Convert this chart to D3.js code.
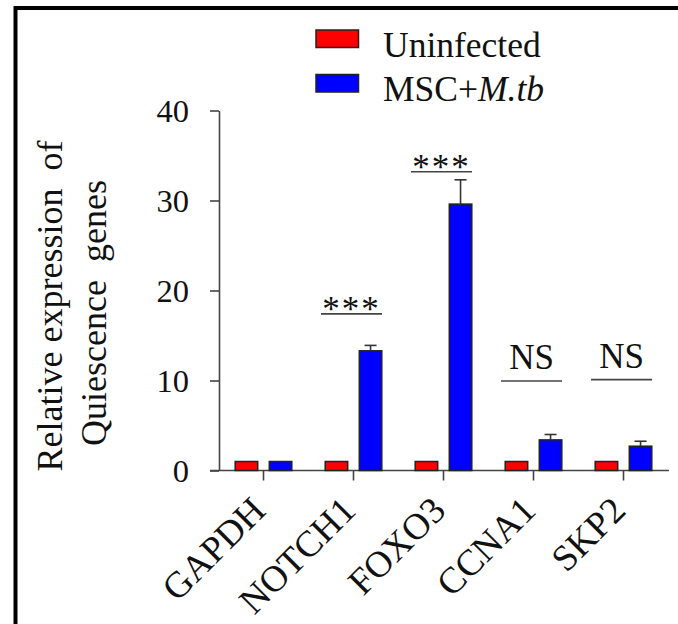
<!DOCTYPE html>
<html>
<head>
<meta charset="utf-8">
<script src="https://cdn.jsdelivr.net/npm/d3@7"></script>
<style>
  body { margin: 0; background: #fff; }
  svg { display: block; font-family: 'Liberation Serif', 'Times New Roman', serif; }
</style>
</head>
<body>
<div id="chart"></div>
<script>
// genes and series
const genes = ['GAPDH', 'NOTCH1', 'FOXO3', 'CCNA1', 'SKP2'];
const seriesNames = ['Uninfected', 'MSC+M.tb'];
const seriesColors = ['#ff0000', '#0000ff'];

// values
const uninfected = [1, 1, 1, 1, 1];
const mscMtb = [1, 13.3, 29.6, 3.4, 2.7];
const mscMtbErr = [0, 0.6, 2.7, 0.6, 0.55];

// significance marks: label and height of the bracket line (in y units)
const sigLabels = ['', '***', '***', 'NS', 'NS'];
const sigLevels = [null, 17.4, 33.2, 9.95, 10.1];

const yTicks = [0, 10, 20, 30, 40];

const width = 678, height = 624;

const svg = d3.select('#chart')
    .append('svg')
        .attr('width', width)
        .attr('height', height);

// frame (only left and top edges visible)
svg.append('path')
    .attr('d', `M15.5,${height} V8 H${width}`)
    .attr('fill', 'none')
    .attr('stroke', '#000')
    .attr('stroke-width', 4);

//scales
let x = d3.scaleBand()
    .domain(genes)
    .range([218.5, 668.5]);

let x1 = d3.scaleBand()
    .domain(seriesNames)
    .range([0, x.bandwidth()])
    .paddingInner(0.34)
    .paddingOuter(0.49);

let y = d3.scaleLinear()
    .domain([0, 40])
    .range([470.5, 110.5]);

const axisColor = '#444';

//y-Axis
let yAxis = svg.append('g')
    .attr('transform', 'translate(219,0)')
    .call(d3.axisLeft(y).tickValues(yTicks).tickSize(9).tickSizeOuter(0).tickPadding(21))
    .attr('font-family', null)
    .attr('font-size', null);

yAxis.select('.domain').attr('stroke', axisColor).attr('stroke-width', 1.6);
yAxis.selectAll('.tick line').attr('stroke', axisColor).attr('stroke-width', 1.6);
yAxis.selectAll('.tick text')
    .attr('fill', '#111')
    .style('font-size', '32.5px')
    .attr('dy', '0.34em');

//x-Axis line from 210 (under the 0 tick) to the right end
svg.append('line')
    .attr('x1', 210).attr('x2', 669)
    .attr('y1', y(0)).attr('y2', y(0))
    .attr('stroke', axisColor)
    .attr('stroke-width', 1.6);

let xAxis = svg.append('g')
    .attr('transform', `translate(0,${y(0)})`)
    .call(d3.axisBottom(x).tickSize(10).tickSizeOuter(0))
    .attr('font-family', null)
    .attr('font-size', null);

xAxis.select('.domain').remove();
xAxis.selectAll('.tick line').attr('stroke', axisColor).attr('stroke-width', 1.6);
xAxis.selectAll('.tick text')
    .attr('fill', '#111')
    .style('font-size', '37px')
    .attr('text-anchor', 'end')
    .attr('dy', null)
    .attr('y', 0)
    .attr('transform', 'translate(4,42) rotate(-45)');

//bars
const barData = genes.map((g, i) => ({gene: g, values: [uninfected[i], mscMtb[i]], err: [0, mscMtbErr[i]]}));

let groups = svg.append('g')
    .selectAll('g')
    .data(barData)
    .join('g')
        .attr('transform', d => `translate(${x(d.gene)},0)`);

groups.selectAll('rect')
    .data(d => d.values.map((v, j) => ({s: seriesNames[j], v: v, e: d.err[j], c: seriesColors[j]})))
    .join('rect')
        .attr('x', d => x1(d.s))
        .attr('y', d => y(d.v))
        .attr('width', x1.bandwidth())
        .attr('height', d => y(0) - y(d.v))
        .attr('fill', d => d.c)
        .attr('stroke', '#222')
        .attr('stroke-width', 1.5);

//error bars (upper half only)
let errs = groups.selectAll('g.err')
    .data(d => d.values.map((v, j) => ({s: seriesNames[j], v: v, e: d.err[j]})).filter(d => d.e > 0))
    .join('g')
        .classed('err', true)
        .attr('stroke', '#333')
        .attr('stroke-width', 1.6);

errs.append('line')
    .attr('x1', d => x1(d.s) + x1.bandwidth() / 2)
    .attr('x2', d => x1(d.s) + x1.bandwidth() / 2)
    .attr('y1', d => y(d.v))
    .attr('y2', d => y(d.v + d.e));

errs.append('line')
    .attr('x1', d => x1(d.s) + x1.bandwidth() / 2 - 6)
    .attr('x2', d => x1(d.s) + x1.bandwidth() / 2 + 6)
    .attr('y1', d => y(d.v + d.e))
    .attr('y2', d => y(d.v + d.e));

//significance brackets
const sigData = genes.map((g, i) => ({gene: g, label: sigLabels[i], level: sigLevels[i]})).filter(d => d.level !== null);

let sig = svg.append('g')
    .selectAll('g')
    .data(sigData)
    .join('g')
        .attr('transform', d => `translate(${x(d.gene) + x.bandwidth() / 2 - 2},${y(d.level)})`);

sig.append('line')
    .attr('x1', -30.5).attr('x2', 30.5)
    .attr('stroke', '#444')
    .attr('stroke-width', 1.6);

sig.append('text')
    .attr('text-anchor', 'middle')
    .attr('fill', '#111')
    .attr('y', d => d.label === 'NS' ? -11.5 : 7)
    .style('font-size', '35px')
    .style('letter-spacing', d => d.label === 'NS' ? '0px' : '2px')
    .text(d => d.label);

//y-axis title
svg.append('text')
    .attr('transform', 'translate(62,306) rotate(-90)')
    .attr('text-anchor', 'middle')
    .attr('fill', '#111')
    .style('font-size', '36px')
    .style('white-space', 'pre')
    .text('Relative expression  of');

svg.append('text')
    .attr('transform', 'translate(106,313) rotate(-90)')
    .attr('text-anchor', 'middle')
    .attr('fill', '#111')
    .style('font-size', '36px')
    .style('white-space', 'pre')
    .text('Quiescence  genes');

//legend
let legend = svg.append('g')
    .selectAll('g')
    .data(seriesNames)
    .join('g')
        .attr('transform', (d, i) => `translate(316,${30 + i * 44.5})`);

legend.append('rect')
    .attr('width', 42.5)
    .attr('height', 17.5)
    .attr('fill', (d, i) => seriesColors[i])
    .attr('stroke', '#222')
    .attr('stroke-width', 1.5);

let legendText = legend.append('text')
    .attr('x', 67)
    .attr('y', 26.5)
    .attr('fill', '#111')
    .style('font-size', '35.5px');

legendText.filter(d => d === 'Uninfected').text(d => d);
legendText.filter(d => d !== 'Uninfected')
    .call(t => {
        t.append('tspan').text('MSC+');
        t.append('tspan').style('font-style', 'italic').text('M.tb');
    });
</script>
</body>
</html>
